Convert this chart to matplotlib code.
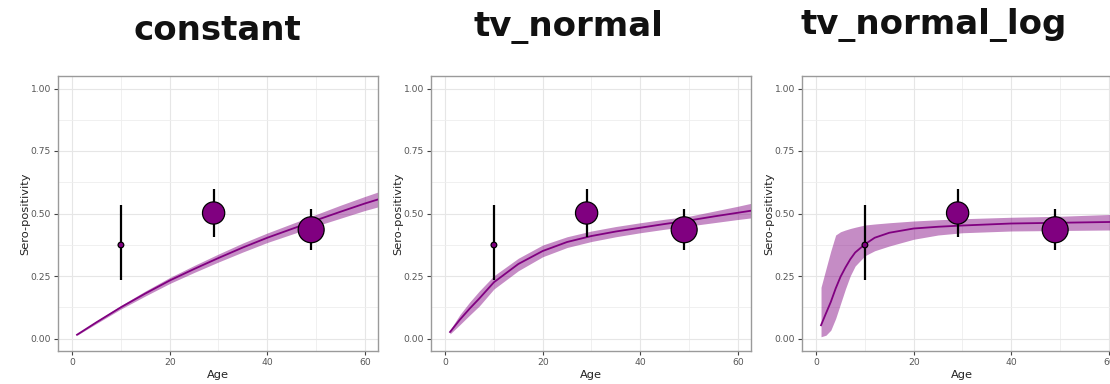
"""
Sero-positivity by age: observed survey points vs. three fitted FOI models.
"""

import numpy as np
import matplotlib
matplotlib.use('Agg')
import matplotlib.pyplot as plt

# observed survey data (same in every panel)
obs_age = [10, 29, 49]
obs_prev = [0.374, 0.502, 0.435]
obs_lower = [0.235, 0.406, 0.355]
obs_upper = [0.533, 0.597, 0.517]
sample_size = [4, 61, 83]

# model "constant"
age_const = [1, 5, 10, 15, 20, 25, 30, 35, 40, 45, 50, 55, 60, 63]
fit_const = [0.015, 0.065, 0.125, 0.180, 0.232, 0.278, 0.322, 0.364, 0.403, 0.438, 0.473, 0.507, 0.540, 0.558]
lo_const = [0.013, 0.060, 0.118, 0.170, 0.220, 0.264, 0.306, 0.346, 0.384, 0.417, 0.450, 0.481, 0.512, 0.528]
hi_const = [0.017, 0.070, 0.132, 0.190, 0.244, 0.292, 0.338, 0.382, 0.422, 0.459, 0.496, 0.533, 0.568, 0.588]

# model "tv_normal"
age_tvn = [1, 3, 5, 7, 10, 15, 20, 25, 30, 35, 40, 45, 50, 55, 60, 63]
fit_tvn = [0.026, 0.075, 0.119, 0.160, 0.225, 0.298, 0.350, 0.386, 0.410, 0.428, 0.443, 0.458, 0.472, 0.488, 0.503, 0.512]
lo_tvn = [0.018, 0.055, 0.093, 0.130, 0.198, 0.271, 0.327, 0.364, 0.388, 0.407, 0.423, 0.437, 0.450, 0.463, 0.476, 0.483]
hi_tvn = [0.034, 0.095, 0.145, 0.190, 0.251, 0.321, 0.374, 0.407, 0.430, 0.448, 0.463, 0.477, 0.489, 0.509, 0.529, 0.542]

# model "tv_normal_log"
age_tvl = [1, 2, 3, 4, 5, 6, 7, 8, 10, 12, 15, 20, 25, 30, 40, 50, 60, 63]
fit_tvl = [0.053, 0.100, 0.146, 0.200, 0.247, 0.284, 0.317, 0.344, 0.377, 0.403, 0.423, 0.440, 0.447, 0.452, 0.460, 0.463, 0.466, 0.467]
lo_tvl = [0.007, 0.013, 0.033, 0.080, 0.139, 0.198, 0.251, 0.290, 0.331, 0.351, 0.370, 0.397, 0.414, 0.423, 0.430, 0.432, 0.434, 0.434]
hi_tvl = [0.205, 0.278, 0.350, 0.414, 0.427, 0.434, 0.440, 0.445, 0.454, 0.458, 0.463, 0.470, 0.475, 0.479, 0.485, 0.489, 0.496, 0.499]

model_names = ['constant', 'tv_normal', 'tv_normal_log']

PURPLE = '#800080'
W, H = 1110, 384

fig = plt.figure(figsize=(W / 100, H / 100), dpi=100)

# axes boxes in pixels (left, top, right, bottom) - last panel runs off the right edge
boxes = [(58, 76, 378, 351), (431, 76, 751, 351), (802, 76, 1122, 351)]
# title centre x / baseline y in pixels
title_pos = [(217, 39.5), (568, 35.5), (934, 34.5)]

panels = [
    (age_const, fit_const, lo_const, hi_const),
    (age_tvn, fit_tvn, lo_tvn, hi_tvn),
    (age_tvl, fit_tvl, lo_tvl, hi_tvl),
]

# marker diameter (pt) grows with sqrt of sample size, like ggplot's size scale
marker_d = 2.05 * np.sqrt(sample_size)

for (l, t, r, b), (ages, fit, lo, hi), name, (tx, ty) in zip(boxes, panels, model_names, title_pos):
    ax = fig.add_axes([l / W, 1 - b / H, (r - l) / W, (b - t) / H])

    ax.fill_between(ages, lo, hi, color=PURPLE, alpha=0.45, lw=0, zorder=2)
    ax.plot(ages, fit, color=PURPLE, lw=1.3, zorder=3)

    ax.vlines(obs_age, obs_lower, obs_upper, color='black', lw=1.6, zorder=4)
    ax.scatter(obs_age, obs_prev, s=marker_d ** 2, color=PURPLE,
               edgecolor='black', linewidth=0.9, zorder=5)

    ax.set_xlim(-2.9, 62.7)
    ax.set_ylim(-0.05, 1.05)
    ax.set_xticks([0, 20, 40, 60])
    ax.set_xticks([10, 30, 50], minor=True)
    ax.set_yticks([0, 0.25, 0.5, 0.75, 1.0])
    ax.set_yticklabels(['0.00', '0.25', '0.50', '0.75', '1.00'])
    ax.set_yticks([0.125, 0.375, 0.625, 0.875], minor=True)

    ax.grid(True, which='major', color='#e6e6e6', lw=0.8, zorder=0)
    ax.grid(True, which='minor', color='#eeeeee', lw=0.6, zorder=0)
    ax.set_axisbelow(True)

    ax.tick_params(which='major', length=3, width=0.8, color='#444444',
                   labelsize=6.6, labelcolor='#555555', pad=2)
    ax.tick_params(which='minor', length=0)
    for sp in ax.spines.values():
        sp.set_color('#9a9a9a')
        sp.set_linewidth(1.0)

    ax.set_xlabel('Age', fontsize=8.2, color='#222222', va='center')
    ax.set_ylabel('Sero-positivity', fontsize=8.2, color='#222222', va='center')
    ax.xaxis.set_label_coords(0.5, -(375 - b) / (b - t) - 0.0)
    ax.yaxis.set_label_coords(-(l - (l - 33)) / (r - l), 0.5)

    fig.text(tx / W, 1 - ty / H, name, ha='center', va='baseline',
             fontsize=24.5, fontweight='bold', color='#111111')

fig.savefig('out.png', dpi=100)
